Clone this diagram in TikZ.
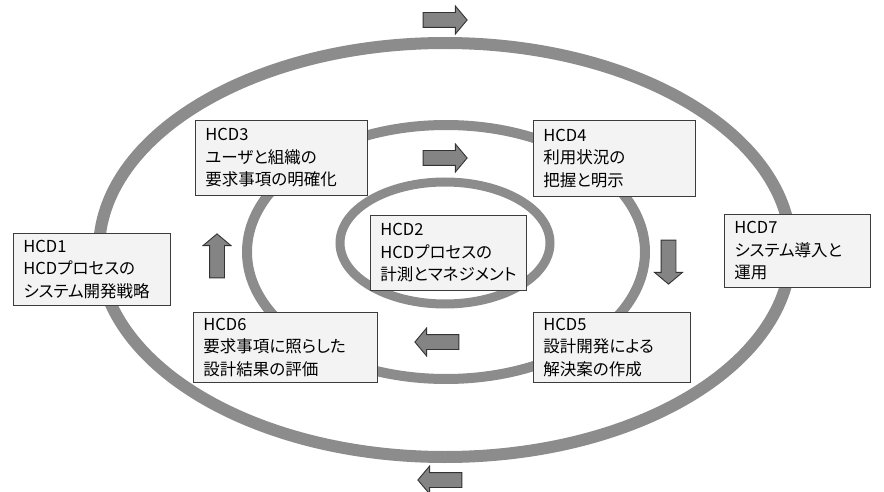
\documentclass[tikz,border=0pt]{standalone}
\usepackage{fontspec}
\setmainfont{Noto Sans CJK JP}[RawFeature=+palt]
\usetikzlibrary{shapes.arrows}
\definecolor{ringgray}{RGB}{140,140,140}
\definecolor{arrowgray}{RGB}{132,132,132}
\definecolor{boxfill}{RGB}{243,243,243}
\definecolor{boxline}{RGB}{60,60,60}
\tikzset{
  ring/.style={draw=ringgray},
  hcdbox/.style={draw=boxline, line width=0.9pt, fill=boxfill, anchor=north west,
    align=left, inner xsep=10pt, inner ysep=0pt,
    font=\fontsize{16.5pt}{22.5pt}\selectfont},
  blockarrow/.style={single arrow, draw=black!80, line width=0.9pt, fill=arrowgray,
    minimum height=44pt, inner sep=7pt, single arrow head extend=6.5pt,
    single arrow tip angle=100, single arrow head indent=0pt}
}
\begin{document}
\begin{tikzpicture}[x=1pt,y=-1pt]
\useasboundingbox (0,0) rectangle (884,492);
% rings
\draw[ring, line width=12pt] (445,250) ellipse [x radius=346, y radius=207];
\draw[ring, line width=10pt] (446,252) ellipse [x radius=199, y radius=127];
\draw[ring, line width=9pt] (445,243) ellipse [x radius=105, y radius=61];
% arrows
\node[blockarrow, shape border rotate=0] (aouttop) at (442,20) {};
\node[blockarrow, shape border rotate=0] (amidtop) at (442,158) {};
\node[blockarrow, shape border rotate=270] (amidright) at (668.5,259) {};
\node[blockarrow, shape border rotate=90] (amidleft) at (217,259) {};
\node[blockarrow, shape border rotate=180] (amidbot) at (440,342) {};
\node[blockarrow, shape border rotate=180] (aoutbot) at (443,480) {};
% boxes
\node[hcdbox, minimum width=157pt, minimum height=72pt, text width=137pt] (hcd1) at (13,233)
  {HCD1\\HCDプロセスの\\システム開発戦略};
\node[hcdbox, minimum width=172pt, minimum height=75pt, text width=152pt] (hcd3) at (195,120)
  {HCD3\\ユーザと組織の\\要求事項の明確化};
\node[hcdbox, minimum width=156pt, minimum height=75pt, text width=136pt] (hcd2) at (370,215)
  {HCD2\\HCDプロセスの\\計測とマネジメント};
\node[hcdbox, minimum width=162pt, minimum height=76pt, text width=142pt] (hcd4) at (533,120)
  {HCD4\\利用状況の\\把握と明示};
\node[hcdbox, minimum width=146pt, minimum height=73pt, text width=126pt] (hcd7) at (724,214)
  {HCD7\\システム導入と\\運用};
\node[hcdbox, minimum width=184pt, minimum height=70pt, text width=164pt] (hcd6) at (193,312)
  {HCD6\\要求事項に照らした\\設計結果の評価};
\node[hcdbox, minimum width=157pt, minimum height=70pt, text width=137pt] (hcd5) at (533,312)
  {HCD5\\設計開発による\\解決案の作成};
\end{tikzpicture}
\end{document}
